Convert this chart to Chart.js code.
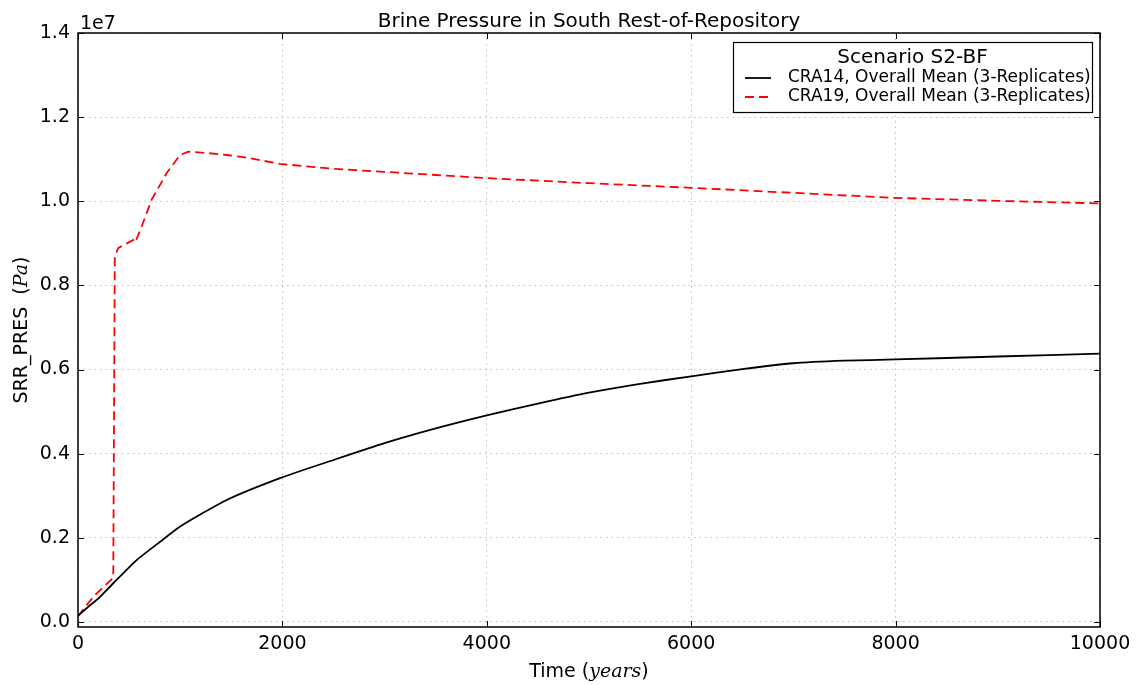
<!DOCTYPE html>
<html>
<head>
<meta charset="utf-8">
<script src="https://cdn.jsdelivr.net/npm/chart.js@4"></script>
<style>
  html, body { margin: 0; padding: 0; background: #fff; }
  #wrap { width: 1138px; height: 685px; }
</style>
</head>
<body>
<div id="wrap"><canvas id="presChart" width="1138" height="685"></canvas></div>
<script>
const cra14Years = [0, 100, 200, 345, 574, 800, 1000, 1455, 1977, 2500, 3000, 3500, 4000, 4500, 5000, 5500, 6000, 6500, 7000, 7500, 8000, 9000, 10000];
const cra14Pres = [1.5e5, 3.6e5, 5.6e5, 9.2e5, 1.47e6, 1.9e6, 2.27e6, 2.9e6, 3.42e6, 3.85e6, 4.25e6, 4.6e6, 4.91e6, 5.19e6, 5.45e6, 5.66e6, 5.84e6, 6.01e6, 6.15e6, 6.21e6, 6.24e6, 6.31e6, 6.38e6];

const cra19Years = [0, 100, 183, 345, 360, 395, 480, 541, 560, 623, 721, 868, 998, 1079, 1250, 1455, 1618, 1977, 2500, 3000, 4000, 5000, 6000, 7000, 8000, 9000, 10000];
const cra19Pres = [1.3e5, 4.5e5, 6.8e5, 1.05e6, 8.7e6, 8.89e6, 9.0e6, 9.08e6, 9.02e6, 9.4e6, 1.004e7, 1.067e7, 1.11e7, 1.118e7, 1.115e7, 1.11e7, 1.105e7, 1.089e7, 1.077e7, 1.07e7, 1.055e7, 1.043e7, 1.032e7, 1.02e7, 1.008e7, 1.001e7, 9.95e6];

const xTicks = [0, 2000, 4000, 6000, 8000, 10000];
const yTicks = [0, 2e6, 4e6, 6e6, 8e6, 1e7, 1.2e7, 1.4e7];

const seriesLabels = ['CRA14, Overall Mean (3-Replicates)', 'CRA19, Overall Mean (3-Replicates)'];
const legendTitle = 'Scenario S2-BF';
const chartTitle = 'Brine Pressure in South Rest-of-Repository';

const FONT = '"DejaVu Sans", sans-serif';

function toPoints(xs, ys) {
  return xs.map((x, i) => ({ x: x, y: ys[i] }));
}

// draws title, frame, inward ticks, axis titles and the boxed legend
const decorations = {
  id: 'decorations',
  afterDraw(chart) {
    const { ctx, chartArea: a, scales } = chart;
    const x = scales.x, y = scales.y;
    ctx.save();

    // frame
    ctx.strokeStyle = '#000';
    ctx.lineWidth = 1.5;
    ctx.strokeRect(a.left, a.top, a.right - a.left, a.bottom - a.top);

    // inward ticks on all sides
    ctx.lineWidth = 1;
    ctx.beginPath();
    xTicks.forEach(v => {
      const px = Math.round(x.getPixelForValue(v)) + 0.5;
      ctx.moveTo(px, a.bottom); ctx.lineTo(px, a.bottom - 6);
      ctx.moveTo(px, a.top); ctx.lineTo(px, a.top + 6);
    });
    yTicks.forEach(v => {
      const py = Math.round(y.getPixelForValue(v)) + 0.5;
      ctx.moveTo(a.left, py); ctx.lineTo(a.left + 6, py);
      ctx.moveTo(a.right, py); ctx.lineTo(a.right - 6, py);
    });
    ctx.stroke();

    ctx.fillStyle = '#000';
    // title
    ctx.font = '20px ' + FONT;
    ctx.textAlign = 'center';
    ctx.textBaseline = 'alphabetic';
    ctx.fillText(chartTitle, (a.left + a.right) / 2, a.top - 6);

    // offset text
    ctx.font = '19px ' + FONT;
    ctx.textAlign = 'left';
    ctx.fillText('1e7', a.left + 2, a.top - 4);

    // mixed-font axis title helper
    function mixed(parts, cx, cy) {
      let w = 0;
      parts.forEach(p => { ctx.font = p.f; w += ctx.measureText(p.t).width; });
      let cur = cx - w / 2;
      parts.forEach(p => {
        ctx.font = p.f;
        ctx.fillText(p.t, cur, cy);
        cur += ctx.measureText(p.t).width;
      });
    }
    ctx.textBaseline = 'middle';
    ctx.textAlign = 'left';
    mixed([
      { t: 'Time (', f: '19px ' + FONT },
      { t: 'years', f: 'italic 19px "DejaVu Serif", serif' },
      { t: ')', f: '19px ' + FONT }
    ], (a.left + a.right) / 2, 672);

    ctx.save();
    ctx.translate(22, (a.top + a.bottom) / 2);
    ctx.rotate(-Math.PI / 2);
    mixed([
      { t: 'SRR_PRES  (', f: '19px ' + FONT },
      { t: 'Pa', f: 'italic 19px "DejaVu Serif", serif' },
      { t: ')', f: '19px ' + FONT }
    ], 0, 0);
    ctx.restore();

    // legend
    const lw = 359, lh = 70;
    const lx = a.right - 8 - lw, ly = a.top + 9;
    ctx.fillStyle = '#fff';
    ctx.fillRect(lx, ly, lw, lh);
    ctx.strokeStyle = '#000';
    ctx.lineWidth = 1.2;
    ctx.strokeRect(lx + 0.5, ly + 0.5, lw, lh);

    ctx.fillStyle = '#000';
    ctx.font = '20px ' + FONT;
    ctx.textAlign = 'center';
    ctx.fillText(legendTitle, lx + lw / 2, ly + 16);

    ctx.font = '17px ' + FONT;
    ctx.textAlign = 'left';
    chart.data.datasets.forEach((ds, i) => {
      const ry = ly + 36 + i * 19;
      ctx.beginPath();
      ctx.strokeStyle = ds.borderColor;
      ctx.lineWidth = ds.borderWidth;
      ctx.setLineDash(ds.borderDash || []);
      ctx.moveTo(lx + 12, ry);
      ctx.lineTo(lx + 38, ry);
      ctx.stroke();
      ctx.setLineDash([]);
      ctx.fillStyle = '#000';
      ctx.fillText(ds.label, lx + 55, ry);
    });

    ctx.restore();
  }
};

new Chart(document.getElementById('presChart').getContext('2d'), {
  type: 'line',
  data: {
    datasets: [{
      label: seriesLabels[0],
      data: toPoints(cra14Years, cra14Pres),
      borderColor: '#000000',
      borderWidth: 1.8,
      pointRadius: 0,
      tension: 0.2,
      fill: false
    }, {
      label: seriesLabels[1],
      data: toPoints(cra19Years, cra19Pres),
      borderColor: '#ff0000',
      borderWidth: 1.8,
      borderDash: [9, 5],
      pointRadius: 0,
      tension: 0,
      fill: false
    }]
  },
  options: {
    responsive: false,
    animation: false,
    layout: { padding: { top: 33, right: 38, left: 0, bottom: 0 } },
    plugins: {
      legend: { display: false },
      title: { display: false },
      tooltip: { enabled: false }
    },
    scales: {
      x: {
        type: 'linear',
        min: 0,
        max: 10000,
        afterBuildTicks: s => { s.ticks = xTicks.map(v => ({ value: v })); },
        afterFit: s => { s.height = 58; },
        grid: { color: '#bdbdbd', lineWidth: 1, drawTicks: false },
        border: { display: false, dash: [1.5, 4] },
        ticks: {
          color: '#000',
          padding: 6,
          font: { family: FONT, size: 19 },
          maxRotation: 0,
          callback: v => String(v)
        }
      },
      y: {
        type: 'linear',
        min: -1.2e5,
        max: 1.4e7,
        afterBuildTicks: s => { s.ticks = yTicks.map(v => ({ value: v })); },
        afterFit: s => { s.width = 78; },
        grid: { color: '#bdbdbd', lineWidth: 1, drawTicks: false },
        border: { display: false, dash: [1.5, 4] },
        ticks: {
          color: '#000',
          padding: 8,
          font: { family: FONT, size: 19 },
          callback: v => (v / 1e7).toFixed(1)
        }
      }
    }
  },
  plugins: [decorations]
});
</script>
</body>
</html>
